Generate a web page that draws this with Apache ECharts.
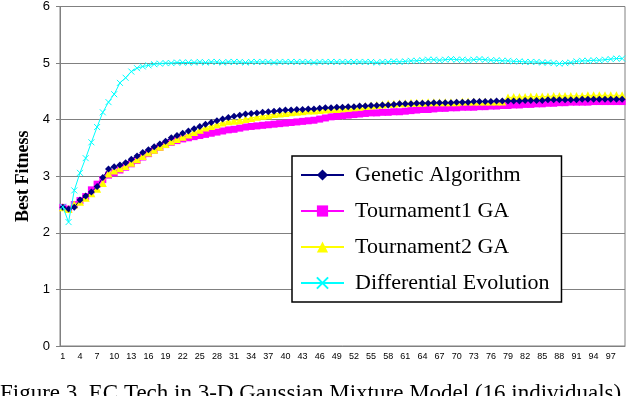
<!DOCTYPE html>
<html>
<head>
<meta charset="utf-8">
<script src="https://cdn.jsdelivr.net/npm/echarts@6/dist/echarts.min.js"></script>
<style>
  html, body { margin: 0; padding: 0; background: #fff; }
  #chart { width: 626px; height: 396px; }
</style>
</head>
<body>
<div id="chart"></div>
<script>
// generations 1..99
var generations = [];
for (var i = 1; i <= 99; i++) generations.push(String(i));

var gaValues = [
  2.45, 2.42, 2.45, 2.58, 2.65, 2.72, 2.82, 2.98, 3.13, 3.17,
  3.20, 3.24, 3.30, 3.36, 3.42, 3.47, 3.52, 3.57, 3.62, 3.68,
  3.72, 3.76, 3.80, 3.84, 3.88, 3.92, 3.95, 3.98, 4.01, 4.04,
  4.06, 4.08, 4.10, 4.11, 4.12, 4.13, 4.14, 4.15, 4.16, 4.17,
  4.17, 4.18, 4.18, 4.19, 4.19, 4.20, 4.21, 4.21, 4.22, 4.22,
  4.23, 4.23, 4.24, 4.24, 4.25, 4.25, 4.26, 4.26, 4.27, 4.28,
  4.28, 4.28, 4.29, 4.29, 4.29, 4.30, 4.30, 4.30, 4.30, 4.31,
  4.31, 4.31, 4.32, 4.32, 4.32, 4.32, 4.33, 4.33, 4.33, 4.33,
  4.33, 4.34, 4.34, 4.34, 4.34, 4.35, 4.35, 4.35, 4.35, 4.35,
  4.35, 4.36, 4.36, 4.36, 4.36, 4.36, 4.36, 4.36, 4.36
];

var tour1Values = [
  2.45, 2.42, 2.50, 2.57, 2.64, 2.76, 2.86, 2.94, 3.02, 3.06,
  3.11, 3.16, 3.22, 3.28, 3.34, 3.40, 3.46, 3.51, 3.56, 3.60,
  3.63, 3.66, 3.68, 3.70, 3.72, 3.74, 3.76, 3.78, 3.80, 3.82,
  3.83, 3.85, 3.87, 3.88, 3.89, 3.90, 3.91, 3.92, 3.93, 3.94,
  3.95, 3.96, 3.97, 3.98, 3.99, 4.01, 4.03, 4.05, 4.06, 4.07,
  4.08, 4.09, 4.10, 4.11, 4.12, 4.12, 4.13, 4.13, 4.14, 4.14,
  4.15, 4.16, 4.17, 4.18, 4.18, 4.19, 4.20, 4.20, 4.21, 4.21,
  4.22, 4.22, 4.22, 4.23, 4.23, 4.24, 4.24, 4.25, 4.25, 4.26,
  4.26, 4.27, 4.27, 4.28, 4.28, 4.29, 4.29, 4.30, 4.30, 4.31,
  4.31, 4.31, 4.31, 4.32, 4.32, 4.32, 4.32, 4.32, 4.32
];

var tour2Values = [
  2.45, 2.42, 2.50, 2.55, 2.62, 2.70, 2.78, 2.88, 3.05, 3.10,
  3.14, 3.18, 3.24, 3.30, 3.36, 3.42, 3.47, 3.52, 3.57, 3.62,
  3.66, 3.70, 3.74, 3.78, 3.82, 3.86, 3.89, 3.92, 3.95, 3.97,
  3.98, 3.99, 4.01, 4.03, 4.05, 4.07, 4.08, 4.10, 4.11, 4.12,
  4.13, 4.14, 4.15, 4.16, 4.16, 4.17, 4.18, 4.19, 4.19, 4.20,
  4.21, 4.22, 4.23, 4.24, 4.25, 4.26, 4.27, 4.28, 4.28, 4.29,
  4.29, 4.30, 4.30, 4.30, 4.31, 4.31, 4.31, 4.31, 4.31, 4.31,
  4.32, 4.32, 4.32, 4.32, 4.32, 4.32, 4.32, 4.32, 4.39, 4.40,
  4.40, 4.40, 4.41, 4.41, 4.41, 4.41, 4.42, 4.42, 4.42, 4.42,
  4.42, 4.42, 4.43, 4.43, 4.43, 4.43, 4.43, 4.43, 4.43
];

var deValues = [
  2.46, 2.19, 2.75, 3.06, 3.32, 3.60, 3.87, 4.13, 4.31, 4.45,
  4.65, 4.74, 4.85, 4.91, 4.94, 4.96, 4.98, 4.99, 5.00, 5.00,
  5.01, 5.01, 5.01, 5.01, 5.02, 5.01, 5.02, 5.02, 5.01, 5.02,
  5.02, 5.02, 5.01, 5.02, 5.02, 5.02, 5.02, 5.01, 5.02, 5.02,
  5.02, 5.02, 5.02, 5.02, 5.01, 5.02, 5.02, 5.02, 5.02, 5.02,
  5.02, 5.02, 5.02, 5.02, 5.02, 5.01, 5.02, 5.02, 5.03, 5.02,
  5.03, 5.04, 5.04, 5.05, 5.06, 5.06, 5.05, 5.06, 5.07, 5.06,
  5.06, 5.05, 5.06, 5.07, 5.06, 5.05, 5.05, 5.04, 5.04, 5.03,
  5.03, 5.02, 5.02, 5.02, 5.01, 5.01, 5.00, 4.99, 5.00, 5.01,
  5.03, 5.04, 5.04, 5.05, 5.05, 5.06, 5.07, 5.08, 5.08
];

var seriesNames = ['Genetic Algorithm', 'Tournament1 GA', 'Tournament2 GA', 'Differential Evolution'];
var yTicks = [0, 1, 2, 3, 4, 5, 6];
var captionText = 'Figure 3. EC Tech in 3-D Gaussian Mixture Model (16 individuals)';

var chart = echarts.init(document.getElementById('chart'));

function lineSeries(name, data, color, symbol, size, extra) {
  var s = {
    name: name,
    type: 'line',
    data: data,
    symbol: symbol,
    symbolSize: size,
    showAllSymbol: true,
    animation: false,
    lineStyle: { color: color, width: 1 },
    itemStyle: { color: color }
  };
  if (extra) {
    for (var k in extra) s[k] = extra[k];
  }
  return s;
}

var option = {
  backgroundColor: '#ffffff',
  animation: false,
  grid: {
    left: 60, top: 5, right: 1, bottom: 50,
    show: true, borderColor: '#808080', borderWidth: 1
  },
  legend: {
    orient: 'vertical',
    left: 292, top: 156,
    backgroundColor: '#ffffff',
    borderColor: '#000000',
    borderWidth: 1.5,
    padding: [8, 12, 8, 8],
    itemWidth: 43,
    itemHeight: 14,
    itemGap: 14,
    textStyle: {
      fontFamily: 'Liberation Serif', fontSize: 22, color: '#000',
      padding: [0, 0, 0, 6]
    },
    data: seriesNames
  },
  xAxis: {
    type: 'category',
    data: generations,
    axisLine: { lineStyle: { color: '#808080' } },
    axisTick: { interval: 0, length: 3, lineStyle: { color: '#808080' } },
    axisLabel: {
      interval: 2, fontFamily: 'Liberation Sans', fontSize: 9, color: '#000', margin: 6
    },
    splitLine: { show: false }
  },
  yAxis: {
    type: 'value',
    min: yTicks[0], max: yTicks[yTicks.length - 1], interval: 1,
    name: 'Best Fitness',
    nameLocation: 'middle',
    nameGap: 26,
    nameTextStyle: { fontFamily: 'Liberation Serif', fontSize: 18, fontWeight: 'bold', color: '#000' },
    axisLine: { show: true, lineStyle: { color: '#808080' } },
    axisTick: { show: true, length: 4, lineStyle: { color: '#808080' } },
    axisLabel: { fontFamily: 'Liberation Sans', fontSize: 13, color: '#000', margin: 10 },
    splitLine: { lineStyle: { color: '#808080', width: 1 } }
  },
  series: [
    lineSeries(seriesNames[0], gaValues, '#000080', 'diamond', 7, { z: 4 }),
    lineSeries(seriesNames[1], tour1Values, '#FF00FF', 'rect', 7, { z: 2 }),
    lineSeries(seriesNames[2], tour2Values, '#FFFF00', 'triangle', 8, { z: 3 }),
    lineSeries(seriesNames[3], deValues, '#00FFFF', 'path://M0,0L10,10M10,0L0,10', 6, {
      z: 5,
      itemStyle: { color: 'none', borderColor: '#00FFFF', borderWidth: 1 }
    })
  ],
  graphic: [{
    type: 'text',
    left: 0,
    top: 382,
    style: {
      text: captionText,
      font: '23px "Liberation Serif"',
      fill: '#000'
    }
  }]
};

chart.setOption(option);
</script>
</body>
</html>
